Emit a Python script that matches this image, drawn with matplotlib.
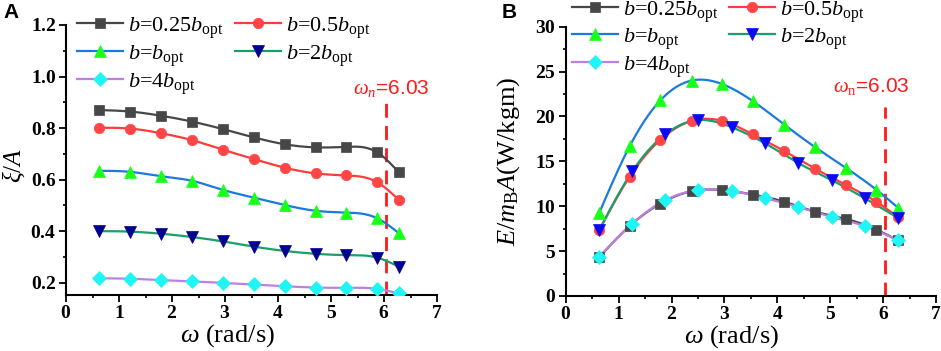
import numpy as np
import matplotlib
matplotlib.use("Agg")
import matplotlib.pyplot as plt
from matplotlib.lines import Line2D
from matplotlib.ticker import MultipleLocator, FuncFormatter

# ---------------- data ----------------
omega_a = [0.63, 1.21, 1.79, 2.38, 2.96, 3.54, 4.13, 4.71, 5.29, 5.87, 6.28]
omega_b = [0.63, 1.26, 1.88, 2.51, 3.14, 3.77, 4.40, 5.03, 5.65, 6.28]

labels = [r'$b$=0.25$b_{\rm opt}$', r'$b$=0.5$b_{\rm opt}$', r'$b$=$b_{\rm opt}$',
          r'$b$=2$b_{\rm opt}$', r'$b$=4$b_{\rm opt}$']

# Panel A: xi/A
xiA_025 = [0.870, 0.864, 0.848, 0.825, 0.796, 0.764, 0.737, 0.725, 0.727, 0.706, 0.628]
xiA_05 = [0.801, 0.798, 0.780, 0.753, 0.716, 0.680, 0.646, 0.624, 0.616, 0.590, 0.521]
xiA_1 = [0.634, 0.630, 0.613, 0.595, 0.560, 0.530, 0.501, 0.479, 0.472, 0.450, 0.392]
xiA_2 = [0.400, 0.398, 0.390, 0.377, 0.360, 0.340, 0.323, 0.312, 0.307, 0.297, 0.262]
xiA_4 = [0.217, 0.215, 0.210, 0.205, 0.199, 0.193, 0.186, 0.181, 0.180, 0.176, 0.158]

# Panel B: E/(mB A)
E_025 = [4.3, 7.8, 10.3, 11.67, 11.8, 11.3, 10.5, 9.4, 8.6, 7.4, 6.2]
E_05 = [7.3, 13.3, 17.4, 19.5, 19.5, 18.0, 16.15, 14.2, 12.4, 10.5, 8.8]
E_1 = [9.2, 16.7, 21.8, 24.0, 23.6, 21.7, 19.1, 16.6, 14.3, 11.85, 9.85]
E_2 = [7.3, 13.9, 18.0, 19.6, 18.8, 17.0, 14.8, 12.9, 10.9, 8.7]
E_4 = [4.35, 8.07, 10.67, 11.8, 11.7, 10.9, 9.9, 8.8, 7.8, 6.2]

omega_n = 6.03

# ---------------- style ----------------
plt.rcParams['font.family'] = ['Liberation Serif', 'DejaVu Serif']
plt.rcParams['mathtext.fontset'] = 'custom'
plt.rcParams['mathtext.rm'] = 'Liberation Serif'
plt.rcParams['mathtext.it'] = 'Liberation Serif:italic'
plt.rcParams['mathtext.bf'] = 'Liberation Serif:bold'

line_colors = ['#474747', '#ff3b3b', '#1a7ae0', '#17a06a', '#bf7fe0']
markers = ['s', 'o', '^', 'v', 'D']
msizes = [6.5, 7.5, 9, 9, 7]
face_A = ['#474747', '#ff4545', '#19ff19', '#000090', '#1ff5f5']
face_B = ['#474747', '#ff4545', '#19ff19', '#0a0af0', '#1ff5f5']


def natural_spline(x, y, n=300):
    x = np.asarray(x, float)
    y = np.asarray(y, float)
    k = len(x)
    h = np.diff(x)
    A = np.zeros((k, k))
    r = np.zeros(k)
    A[0, 0] = 1
    A[-1, -1] = 1
    for i in range(1, k - 1):
        A[i, i - 1] = h[i - 1]
        A[i, i] = 2 * (h[i - 1] + h[i])
        A[i, i + 1] = h[i]
        r[i] = 6 * ((y[i + 1] - y[i]) / h[i] - (y[i] - y[i - 1]) / h[i - 1])
    M = np.linalg.solve(A, r)
    xs = np.linspace(x[0], x[-1], n)
    idx = np.clip(np.searchsorted(x, xs) - 1, 0, k - 2)
    x0, x1 = x[idx], x[idx + 1]
    hh = x1 - x0
    a = (x1 - xs) / hh
    b = (xs - x0) / hh
    ys = (a * y[idx] + b * y[idx + 1]
          + ((a ** 3 - a) * M[idx] + (b ** 3 - b) * M[idx + 1]) * hh ** 2 / 6)
    return xs, ys


W, H = 941, 351
fig = plt.figure(figsize=(W / 100, H / 100), dpi=100)


def px_axes(l, r, t, b):
    return fig.add_axes([l / W, 1 - b / H, (r - l) / W, (b - t) / H])


axA = px_axes(66, 437, 25, 295)
axB = px_axes(565.7, 936, 26.7, 296)

seriesA = [(omega_a, xiA_025), (omega_a, xiA_05), (omega_a, xiA_1), (omega_a, xiA_2), (omega_a, xiA_4)]
seriesB = [(omega_a, E_025), (omega_a, E_05), (omega_a, E_1), (omega_b, E_2), (omega_b, E_4)]

for ax, series, faces in [(axA, seriesA, face_A), (axB, seriesB, face_B)]:
    for (xv, yv), lc, mk, ms, fc, lab in zip(series, line_colors, markers, msizes, faces, labels):
        xs, ys = natural_spline(xv, yv)
        ax.plot(xs, ys, color=lc, lw=1.6, zorder=2)
        ax.plot(xv, yv, ls='none', marker=mk, ms=ms, mfc=fc, mec=fc, mew=0.5, zorder=3,
                label=lab)


def bold_fmt(fmt):
    return FuncFormatter(lambda v, p: r'$\mathbf{' + (fmt % v) + '}$')


for ax in (axA, axB):
    ax.spines['top'].set_visible(False)
    ax.spines['right'].set_visible(False)
    for s in ('left', 'bottom'):
        ax.spines[s].set_linewidth(1.5)
    ax.set_xlim(0, 7)
    ax.xaxis.set_major_locator(MultipleLocator(1))
    ax.xaxis.set_minor_locator(MultipleLocator(0.5))
    ax.xaxis.set_major_formatter(bold_fmt('%d'))
    ax.tick_params(which='major', direction='out', length=5, width=1.3, labelsize=14, pad=2)
    ax.tick_params(which='minor', direction='out', length=2.5, width=1.2)
    ax.set_xlabel(r'$\omega$ (rad/s)', fontsize=19)

axA.set_ylim(0.152, 1.2)
axA.yaxis.set_major_locator(MultipleLocator(0.2))
axA.yaxis.set_minor_locator(MultipleLocator(0.1))
axA.yaxis.set_major_formatter(bold_fmt('%.1f'))
axB.set_ylim(0, 30)
axB.yaxis.set_major_locator(MultipleLocator(5))
axB.yaxis.set_minor_locator(MultipleLocator(2.5))
axB.yaxis.set_major_formatter(bold_fmt('%d'))

axA.set_ylabel(r'$\xi/A$', fontsize=18)
axB.set_ylabel(r'$E/m_{\rm B}A$(W/kgm)', fontsize=19)
axA.yaxis.set_label_coords(-0.105, 0.48)
axB.yaxis.set_label_coords(-0.118, 0.5)
axA.xaxis.set_label_coords(0.435, -0.10)
axB.xaxis.set_label_coords(0.448, -0.10)

# omega_n markers
axA.plot([omega_n, omega_n], [0.152, 0.90], color='#ff1a1a', lw=2, ls=(0, (5, 3)), zorder=1)
axB.plot([omega_n, omega_n], [0, 21.0], color='#ff1a1a', lw=2, ls=(0, (5, 3)), zorder=1)
axA.text(6.13, 0.955, r'$\omega_n$=6.03', color='#ff1a1a', fontsize=15,
         family='Liberation Sans', ha='center', va='center')
axB.text(5.78, 23.3, r'$\omega_{\rm n}$=6.03', color='#ff1a1a', fontsize=15,
         family='Liberation Sans', ha='center', va='center')


# legends: laid out row by row (2 columns) in figure pixel positions
def draw_legend(faces, col_x, row_y):
    for i, (lab, lc, mk, ms, fc) in enumerate(zip(labels, line_colors, markers, msizes, faces)):
        r, c = divmod(i, 2)
        hx = col_x[c]
        y = 1 - row_y[r] / H
        fig.add_artist(Line2D([hx / W, (hx + 46) / W], [y, y], transform=fig.transFigure,
                              color=lc, lw=1.6))
        fig.add_artist(Line2D([(hx + 23) / W], [y], transform=fig.transFigure, ls='none',
                              marker=mk, ms=ms, mfc=fc, mec=fc, mew=0.5))
        fig.text((hx + 51) / W, 1 - (row_y[r] + 9) / H, lab, fontsize=16, va='baseline',
                 ha='left')


draw_legend(face_A, [77, 235], [23, 51, 79])
draw_legend(face_B, [572, 729], [7, 34, 62])

fig.text(3 / W, 1 - 3 / H, 'A', family='Liberation Sans', fontweight='bold', fontsize=15, va='top')
fig.text(502 / W, 1 - 3 / H, 'B', family='Liberation Sans', fontweight='bold', fontsize=15, va='top')

fig.savefig('out.png', dpi=100)
